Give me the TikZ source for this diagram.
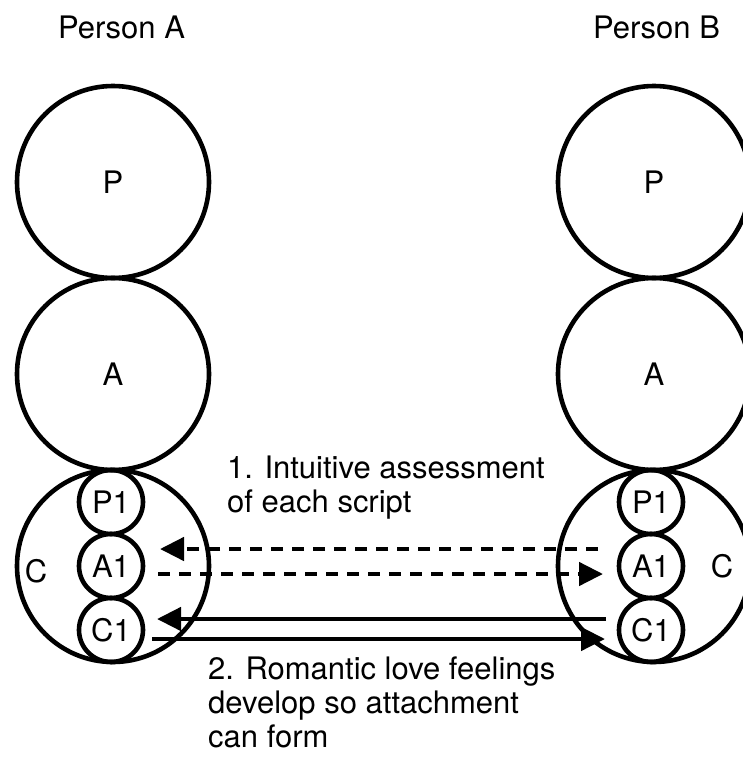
\documentclass[tikz,border=0pt]{standalone}
\usepackage{fontspec}
\setmainfont{TeX Gyre Heros}
\usetikzlibrary{arrows.meta}
\begin{document}
\begin{tikzpicture}[x=1pt,y=-1pt,
  every node/.style={font=\fontsize{31}{33.8}\selectfont},
  bigcirc/.style={circle,draw,line width=4.6pt,minimum size=192pt,inner sep=0pt},
  smallcirc/.style={circle,draw,line width=4.6pt,minimum size=64pt,inner sep=0pt},
  flow/.style={line width=4.6pt,-{Triangle[length=24pt,width=23pt]}},
  assess/.style={flow,dash pattern=on 12pt off 9pt},
  caption/.style={anchor=base west,align=left,inner sep=0pt}]
\useasboundingbox (0,0) rectangle (742,758);

% Person A
\node[anchor=base west,inner sep=0pt] (titleA) at (58,38) {Person A};
\node[bigcirc] (PA) at (113,182) {P};
\node[bigcirc] (AA) at (113,374) {A};
\node[bigcirc] (CA) at (113,566) {};
\node[smallcirc] (P1A) at (111,502) {P1};
\node[smallcirc] (A1A) at (111,566) {A1};
\node[smallcirc] (C1A) at (111,630) {C1};
\node (labCA) at (36,571) {C};

% Person B
\node[anchor=base west,inner sep=0pt] (titleB) at (593,38) {Person B};
\node[bigcirc] (PB) at (654,182) {P};
\node[bigcirc] (AB) at (654,374) {A};
\node[bigcirc] (CB) at (654,566) {};
\node[smallcirc] (P1B) at (651,502) {P1};
\node[smallcirc] (A1B) at (651,566) {A1};
\node[smallcirc] (C1B) at (651,630) {C1};
\node (labCB) at (722,566) {C};

% arrow end points
\coordinate (d1s) at (598,549); \coordinate (d1e) at (160,549);
\coordinate (d2s) at (158,574); \coordinate (d2e) at (603,574);
\coordinate (s1s) at (606,619); \coordinate (s1e) at (157,619);
\coordinate (s2s) at (152,639); \coordinate (s2e) at (605,639);

% step 1: intuitive assessment (dashed)
\draw[assess] (d1s) -- (d1e);
\draw[assess] (d2s) -- (d2e);
% step 2: romantic love feelings (solid)
\draw[flow] (s1s) -- (s1e);
\draw[flow] (s2s) -- (s2e);

% captions (anchored at the baseline of their last line)
\node[caption] (cap1) at (227,512) {1. Intuitive assessment\\of each script};
\node[caption] (cap2) at (208,747) {2. Romantic love feelings\\develop so attachment\\can form};
\end{tikzpicture}
\end{document}
